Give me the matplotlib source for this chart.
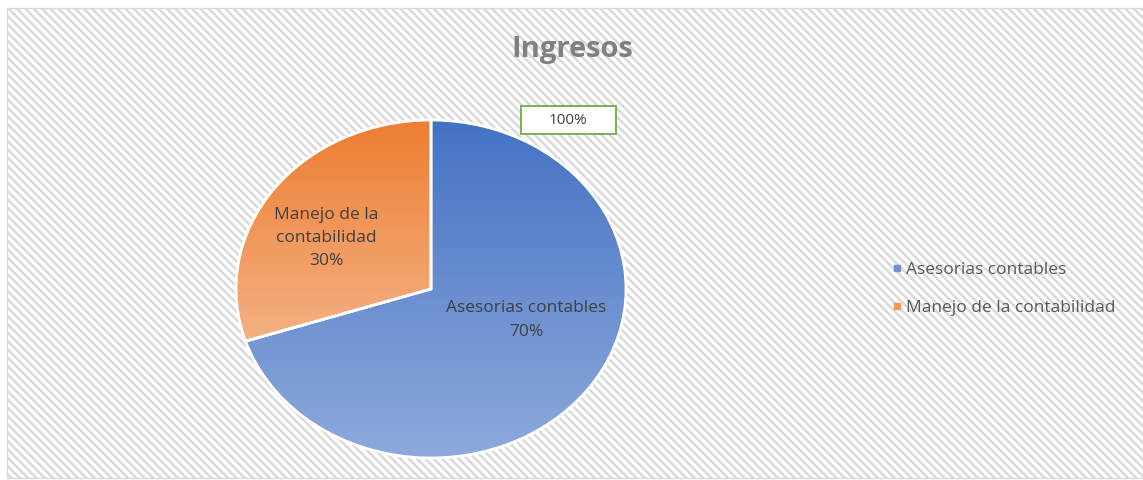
import matplotlib
matplotlib.use("Agg")
import matplotlib.pyplot as plt
import numpy as np
from matplotlib.colors import LinearSegmentedColormap
from matplotlib.patches import Rectangle
from matplotlib.lines import Line2D

categories = ["Asesorias contables", "Manejo de la contabilidad"]
values = [70, 30]
label_texts = ["Asesorias contables\n70%", "Manejo de la\ncontabilidad\n30%"]
title = "Ingresos"
total_label = "100%"
top_colors = ["#4472C4", "#ED7D31"]
bottom_colors = ["#8FAADC", "#F4B183"]
legend_colors = ["#6F8FD0", "#F0995A"]

W, H = 1143, 480
plt.rcParams['font.family'] = ['Open Sans', 'DejaVu Sans']
plt.rcParams['hatch.color'] = '#e9e9e9'
plt.rcParams['hatch.linewidth'] = 1.8

fig = plt.figure(figsize=(W / 100, H / 100), dpi=100)
fig.patch.set_facecolor('white')

# background with diagonal hatch
bg = Rectangle((7 / W, 2 / H), (W - 7) / W, (H - 10) / H, transform=fig.transFigure,
               facecolor='white', edgecolor='#d9d9d9', hatch='\\\\\\\\', linewidth=1.0,
               zorder=-10)
fig.patches.append(bg)

# pie axes
cx, cy = 431, H - 289
rx, ry = 195, 169
ax = fig.add_axes([(cx - rx) / W, (cy - ry) / H, 2 * rx / W, 2 * ry / H], zorder=2)
ax.patch.set_visible(False)
wedges, _ = ax.pie(values, startangle=90, counterclock=False, radius=1,
                   wedgeprops=dict(edgecolor='white', linewidth=2))
ax.set_aspect('auto')
ax.axis('off')

for w, ct, cb in zip(wedges, top_colors, bottom_colors):
    w.set_facecolor('none')
    path = w.get_path()
    verts = w.get_patch_transform().transform(path.vertices)
    y0, y1 = verts[:, 1].min(), verts[:, 1].max()
    cmap = LinearSegmentedColormap.from_list('g', [cb, ct])
    grad = np.linspace(0, 1, 256).reshape(-1, 1)
    im = ax.imshow(grad, cmap=cmap, origin='lower', extent=[-1, 1, y0, y1],
                   aspect='auto', zorder=1)
    im.set_clip_path(w)
    w.set_zorder(2)
ax.set_xlim(-1, 1)
ax.set_ylim(-1, 1)

# data labels
ax.text((526 - cx) / rx, ((H - 320) - cy) / ry,
        label_texts[0], ha='center', va='center', fontsize=12.5, color='#404040',
        linespacing=1.6, zorder=5)
ax.text((326 - cx) / rx, ((H - 238) - cy) / ry,
        label_texts[1], ha='center', va='center', fontsize=12.5, color='#404040',
        linespacing=1.6, zorder=5)

# title
fig.text(572 / W, 1 - 50 / H, title, ha='center', va='center', fontsize=21,
         fontweight='bold', color='#808080')

# 100% box
fig.patches.append(Rectangle((521 / W, 1 - 134 / H), 95 / W, 28 / H,
                             transform=fig.transFigure, facecolor='white',
                             edgecolor='#70AD47', linewidth=1.3, zorder=3))
fig.text(568 / W, 1 - 120 / H, total_label, ha='center', va='center', fontsize=11,
         color='#404040', zorder=4)

# legend
handles = [Line2D([], [], marker='s', linestyle='none', markersize=5,
                  markerfacecolor=c, markeredgecolor=c) for c in legend_colors]
leg = fig.legend(handles, categories, loc='center left',
                 bbox_to_anchor=(880 / W, 1 - 289 / H), frameon=False,
                 fontsize=12.5, labelspacing=1.3, handletextpad=0.0,
                 handlelength=1.0, borderpad=0)
for t in leg.get_texts():
    t.set_color('#595959')

fig.savefig('out.png', dpi=100)
